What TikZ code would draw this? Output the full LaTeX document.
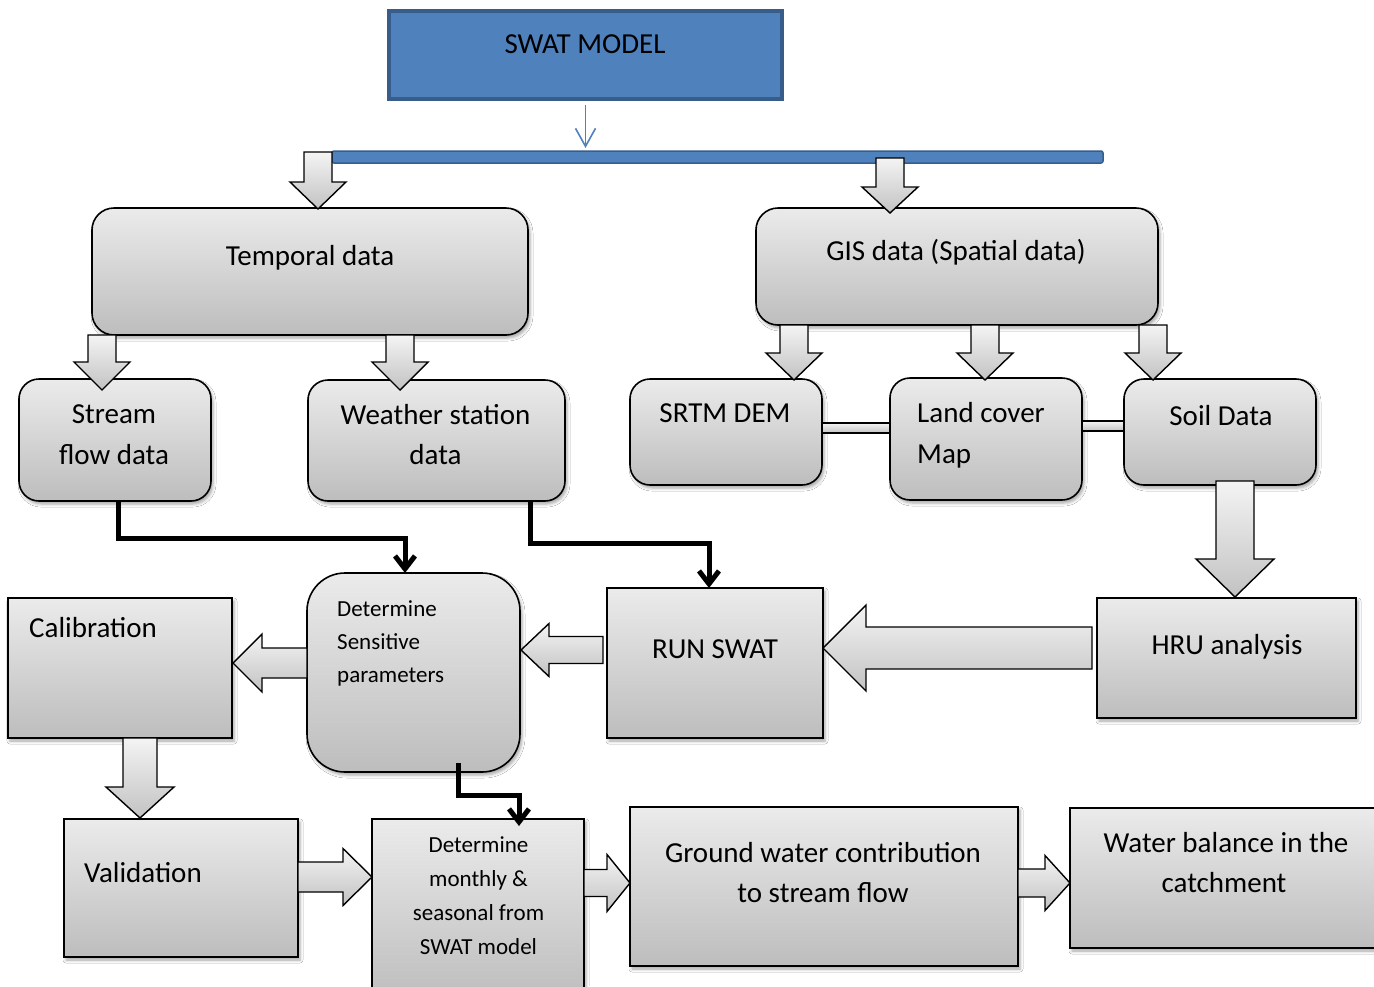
\documentclass[tikz,border=0pt]{standalone}
\usepackage{fontspec}
\setmainfont{Carlito}
\usetikzlibrary{arrows.meta,fit,shadows.blur}
\definecolor{boxtop}{HTML}{EBEBEB}
\definecolor{boxbot}{HTML}{BDBDBD}
\definecolor{arrtop}{HTML}{F4F4F4}
\definecolor{arrbot}{HTML}{C2C2C2}
\definecolor{swatblue}{HTML}{4F81BD}
\definecolor{swatedge}{HTML}{385D8A}
\tikzset{
  gbox/.style={draw=black, line width=1.6pt, top color=boxtop, bottom color=boxbot,
    inner sep=0pt, outer sep=0pt,
    blur shadow={shadow xshift=2pt, shadow yshift=-3pt, shadow blur radius=3pt, shadow opacity=35}},
  rbox/.style={gbox, rounded corners=#1},
  swatbox/.style={draw=swatedge, line width=3.5pt, fill=swatblue, inner sep=0pt, outer sep=0pt},
  swatbar/.style={draw=swatedge, line width=1.5pt, fill=swatblue, rounded corners=2pt, inner sep=0pt, outer sep=0pt},
  barrow/.style={draw=black, line width=1.4pt, top color=arrtop, bottom color=arrbot, line join=miter},
  linkbar/.style={draw=black, line width=1.4pt, top color=arrtop, bottom color=arrbot, inner sep=0pt, outer sep=0pt},
  lbl/.style={inner sep=0pt, anchor=base, font=\fontsize{29}{35}\selectfont},
  lbll/.style={lbl, anchor=base west},
  slbl/.style={inner sep=0pt, anchor=base, font=\fontsize{23}{28}\selectfont},
  slbll/.style={slbl, anchor=base west},
  elbow/.style={draw=black, line width=5pt, line join=miter, -{Straight Barb[length=13pt,width=20pt]}},
}
% #1 centre x, #2 top y, #3 shaft half width, #4 head base y, #5 head half width, #6 tip y
\newcommand\ArrDown[6]{\path[barrow] (#1-#3,#2) -- (#1+#3,#2) -- (#1+#3,#4) -- (#1+#5,#4) -- (#1,#6) -- (#1-#5,#4) -- (#1-#3,#4) -- cycle;}
% #1 tail x, #2 centre y, #3 shaft half width, #4 head base x, #5 head half width, #6 tip x
\newcommand\ArrSide[6]{\path[barrow] (#1,#2-#3) -- (#4,#2-#3) -- (#4,#2-#5) -- (#6,#2) -- (#4,#2+#5) -- (#4,#2+#3) -- (#1,#2+#3) -- cycle;}
\begin{document}
\begin{tikzpicture}[x=1pt,y=-1pt]
\useasboundingbox (0,0) rectangle (1374,986);
\fill[white] (0,0) rectangle (1374,986);

% top
\node[swatbox, fit={(389,11) (782,99)}] (swat) {};
\node[swatbar, fit={(332,151) (1103,163)}] (bar) {};
\draw[swatblue, line width=1.6pt, -{Straight Barb[length=18pt,width=20pt]}]
  ([yshift=-6]swat.south) -- ([yshift=3]swat.south |- bar.north);

% boxes
\node[rbox=22pt, fit={(92,208) (528,335)}] (temporal) {};
\node[rbox=22pt, fit={(756,208) (1158,325)}] (gis) {};
\node[rbox=20pt, fit={(19,379) (211,501)}] (stream) {};
\node[rbox=20pt, fit={(308,380) (565,501)}] (weather) {};
\node[rbox=20pt, fit={(630,379) (822,485)}] (srtm) {};
\node[rbox=20pt, fit={(890,378) (1082,500)}] (land) {};
\node[rbox=20pt, fit={(1124,379) (1316,485)}] (soil) {};
\node[gbox, fit={(1097,598) (1356,718)}] (hru) {};
\node[gbox, fit={(607,588) (823,738)}] (run) {};
\node[rbox=38pt, fit={(307,573) (520,772)}] (detsens) {};
\node[gbox, fit={(8,598) (232,738)}] (calib) {};
\node[gbox, fit={(64,819) (298,957)}] (valid) {};
\node[gbox, fit={(372,819) (584,1000)}] (monthly) {};
\node[gbox, fit={(630,807) (1018,966)}] (ground) {};
\node[gbox, fit={(1070,808) (1384,948)}] (water) {};

% link bars between GIS boxes
\node[linkbar, fit={(822,423) (890,433)}] (link1) {};
\node[linkbar, fit={(1082,421) (1124,431)}] (link2) {};

% block arrows
\ArrDown{318}{152}{14}{182}{28}{209}
\ArrDown{890}{158}{14}{187}{28}{213}
\ArrDown{102}{335}{14}{362}{28}{390}
\ArrDown{400}{335}{14}{362}{28}{390}
\ArrDown{794}{325}{14}{353}{28}{380}
\ArrDown{985}{325}{14}{353}{28}{380}
\ArrDown{1153}{325}{14}{353}{28}{380}
\ArrDown{1235}{481}{19}{559}{39}{597}
\ArrDown{140}{738}{17}{787}{34}{818}
\ArrSide{1092}{648}{21}{866}{43}{823}
\ArrSide{603}{650}{13.5}{549}{26.5}{521}
\ArrSide{307}{663}{15}{262}{29}{233}
\ArrSide{298}{877}{15}{343}{28.5}{372}
\ArrSide{584}{883}{13.5}{607}{28.5}{630}
\ArrSide{1018}{883}{14}{1045}{27.5}{1070}

% elbow connectors
\draw[elbow] ([xshift=3]stream.south) -- ++(0,37) -| ([xshift=-8.5]detsens.north);
\draw[elbow] ([xshift=93.5]weather.south) -- ++(0,42) -| ([xshift=-6]run.north);
\draw[elbow] ([xshift=44.5,yshift=9]detsens.south) -- ++(0,32) -| ([xshift=41,yshift=-7]monthly.north);

% labels
\node[lbl] (tswat) at (585,53) {SWAT MODEL};
\node[lbl] (ttemp) at (310,265) {Temporal data};
\node[lbl] (tgis) at (956,260) {GIS data (Spatial data)};
\node[lbl] (tstr1) at (114,423) {Stream};
\node[lbl] (tstr2) at (114,464) {flow data};
\node[lbl] (twea1) at (435.5,424) {Weather station};
\node[lbl] (twea2) at (435.5,464) {data};
\node[lbl] (tsrtm) at (725,422) {SRTM DEM};
\node[lbll] (tland1) at (917,422) {Land cover};
\node[lbll] (tland2) at (917,463) {Map};
\node[lbl] (tsoil) at (1221,425) {Soil Data};
\node[lbl] (thru) at (1227,654) {HRU analysis};
\node[lbl] (trun) at (715,658) {RUN SWAT};
\node[slbll] (tds1) at (337,616) {Determine};
\node[slbll] (tds2) at (337,649) {Sensitive};
\node[slbll] (tds3) at (337,682) {parameters};
\node[lbll] (tcal) at (29,637) {Calibration};
\node[lbll] (tval) at (84,882) {Validation};
\node[slbl] (tmo1) at (478.5,852) {Determine};
\node[slbl] (tmo2) at (478.5,886) {monthly \&};
\node[slbl] (tmo3) at (478.5,920) {seasonal from};
\node[slbl] (tmo4) at (478.5,954) {SWAT model};
\node[lbl] (tgr1) at (823,862) {Ground water contribution};
\node[lbl] (tgr2) at (823,902) {to stream flow};
\node[lbl] (twb1) at (1226,852) {Water balance in the};
\node[lbl] (twb2) at (1224,892) {catchment};
\end{tikzpicture}
\end{document}
